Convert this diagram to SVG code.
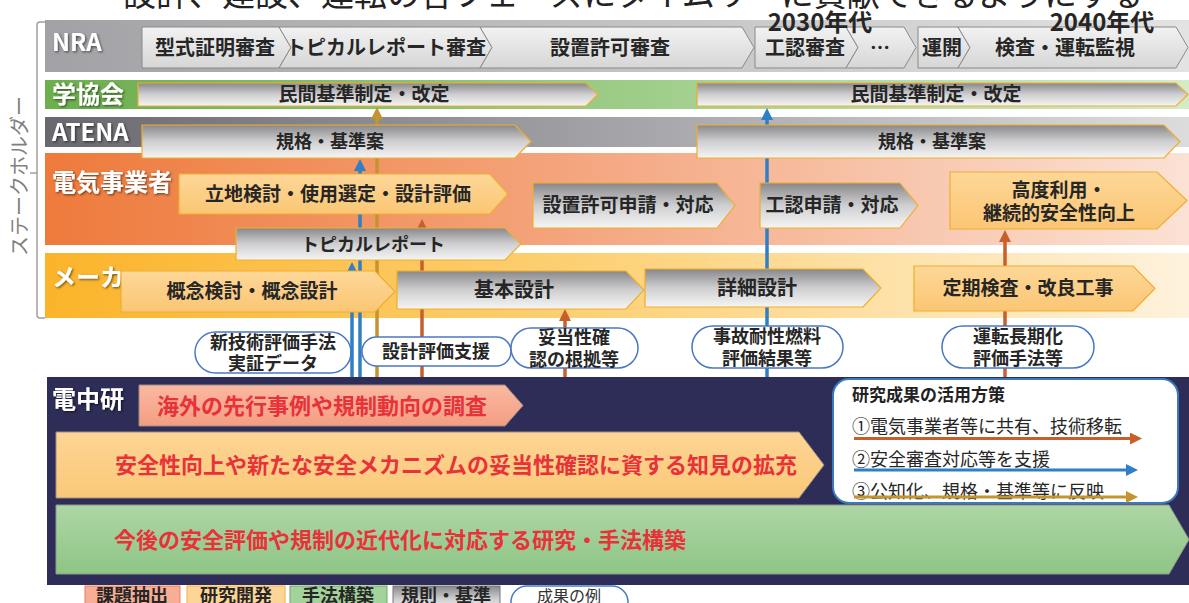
<svg xmlns="http://www.w3.org/2000/svg" width="1189" height="603" viewBox="0 0 1189 603">
<defs>
<style>
text{font-family:"Noto Sans CJK JP","Noto Sans",sans-serif}
.lbl{font-weight:700;fill:#fff;font-size:24px;filter:url(#sh)}
.ct{font-weight:700;fill:#262626;text-anchor:middle}
.red{font-weight:700;fill:#e8323a;font-size:22px}
.bub{fill:#fff;stroke:#4a78c2;stroke-width:1.5}
.bt{font-weight:700;fill:#262626;font-size:18px;text-anchor:middle}
.chg{fill:url(#gGray);stroke:#f0ad2e;stroke-width:1.2}
.cho{fill:url(#gLtOr);stroke:#f0ad2e;stroke-width:1.2}
.chn{fill:url(#gNraCh);stroke:#8a8a8a;stroke-width:1}
.cn{fill:none;stroke-width:3.5}
.or{stroke:#c65f2c}
.bl{stroke:#2f7fc6}
.tn{stroke:#c4942f}
.lg{font-size:18px;fill:#262626}
</style>
<filter id="sh" x="-10%" y="-20%" width="130%" height="160%"><feDropShadow dx="1.2" dy="1.2" stdDeviation="0.8" flood-color="#000" flood-opacity="0.55"/></filter>
<linearGradient id="gNRA" x1="0" y1="0" x2="1" y2="0"><stop offset="0" stop-color="#a2a2a6"/><stop offset="1" stop-color="#e3e3e3"/></linearGradient>
<linearGradient id="gGak" x1="0" y1="0" x2="1" y2="0"><stop offset="0" stop-color="#6cae4c"/><stop offset="0.5" stop-color="#9ccc86"/><stop offset="1" stop-color="#d4ebc8"/></linearGradient>
<linearGradient id="gAte" x1="0" y1="0" x2="1" y2="0"><stop offset="0" stop-color="#6a686e"/><stop offset="0.5" stop-color="#a4a4a8"/><stop offset="1" stop-color="#dcdcdc"/></linearGradient>
<linearGradient id="gDen" x1="0" y1="0" x2="1" y2="0"><stop offset="0" stop-color="#ee7a3b"/><stop offset="0.45" stop-color="#f4a47c"/><stop offset="1" stop-color="#fbe2d5"/></linearGradient>
<linearGradient id="gMak" x1="0" y1="0" x2="1" y2="0"><stop offset="0" stop-color="#fbb42a"/><stop offset="0.5" stop-color="#fdd27a"/><stop offset="1" stop-color="#fef2dc"/></linearGradient>
<linearGradient id="gGray" x1="0" y1="0" x2="0" y2="1"><stop offset="0" stop-color="#88888c"/><stop offset="0.5" stop-color="#cfcfd1"/><stop offset="1" stop-color="#f5f5f5"/></linearGradient>
<linearGradient id="gNraCh" x1="0" y1="0" x2="0" y2="1"><stop offset="0" stop-color="#f2f2f2"/><stop offset="1" stop-color="#d6d6d6"/></linearGradient>
<linearGradient id="gLtOr" x1="0" y1="0" x2="0" y2="1"><stop offset="0" stop-color="#fdd798"/><stop offset="1" stop-color="#fbc674"/></linearGradient>
<linearGradient id="gSal" x1="0" y1="0" x2="0" y2="1"><stop offset="0" stop-color="#fab9a1"/><stop offset="1" stop-color="#f49d82"/></linearGradient>
<linearGradient id="gPch" x1="0" y1="0" x2="0" y2="1"><stop offset="0" stop-color="#fdd595"/><stop offset="1" stop-color="#fbc878"/></linearGradient>
<linearGradient id="gGrn" x1="0" y1="0" x2="0" y2="1"><stop offset="0" stop-color="#aed6a5"/><stop offset="1" stop-color="#8ec585"/></linearGradient>
<marker id="mOr" viewBox="0 0 12 12" refX="2" refY="6" markerWidth="12" markerHeight="12" markerUnits="userSpaceOnUse" orient="auto"><path d="M0,0 L12,6 L0,12 z" fill="#c65f2c"/></marker>
<marker id="mBl" viewBox="0 0 12 12" refX="2" refY="6" markerWidth="12" markerHeight="12" markerUnits="userSpaceOnUse" orient="auto"><path d="M0,0 L12,6 L0,12 z" fill="#2f7fc6"/></marker>
<marker id="mTn" viewBox="0 0 12 12" refX="2" refY="6" markerWidth="12" markerHeight="12" markerUnits="userSpaceOnUse" orient="auto"><path d="M0,0 L12,6 L0,12 z" fill="#c4942f"/></marker>
</defs>

<g id="title">
<text x="123" y="6" font-size="33" fill="#222">設計、建設、運転の各フェーズにタイムリーに貢献できるようにする</text>
</g>

<g id="stakeholder-bracket">
<path d="M45,22 H40 Q37,22 37,25 V315 Q37,318 40,318 H45 M37,173 H30" fill="none" stroke="#a0a0a0" stroke-width="1.5"/>
<text transform="translate(27,176) rotate(-90)" text-anchor="middle" font-size="20" fill="#808080">ステークホルダー</text>
</g>

<g id="band-nra"><rect x="45" y="20" width="1144" height="52" fill="url(#gNRA)"/><text class="lbl" x="52" y="51">NRA</text></g>
<g id="band-gakkai"><rect x="45" y="80" width="1144" height="29" fill="url(#gGak)"/><text class="lbl" x="52" y="103">学協会</text></g>
<g id="band-atena"><rect x="45" y="117" width="1144" height="30" fill="url(#gAte)"/><text class="lbl" x="52" y="141">ATENA</text></g>
<g id="band-denki"><rect x="45" y="153" width="1144" height="92" fill="url(#gDen)"/><text class="lbl" x="52" y="191" font-size="25">電気事業者</text></g>
<g id="band-maker"><rect x="45" y="253" width="1144" height="65" fill="url(#gMak)"/><text class="lbl" x="52" y="286">メーカ</text></g>

<g id="bubble-shingijutsu"><rect class="bub" x="195" y="332" width="156" height="41" rx="20.5"/><text class="bt" x="273" y="349">新技術評価手法</text><text class="bt" x="273" y="370">実証データ</text></g>

<g id="connectors">
<line class="cn bl" x1="352" y1="377" x2="352" y2="272" marker-end="url(#mBl)"/>
<line class="cn bl" x1="360" y1="377" x2="360" y2="169" marker-end="url(#mBl)"/>
<line class="cn tn" x1="377" y1="377" x2="377" y2="117" marker-end="url(#mTn)"/>
<line class="cn or" x1="422" y1="377" x2="422" y2="229" marker-end="url(#mOr)"/>
<line class="cn or" x1="565" y1="377" x2="565" y2="319" marker-end="url(#mOr)"/>
<line class="cn bl" x1="767" y1="377" x2="767" y2="118" marker-end="url(#mBl)"/>
<line class="cn or" x1="1005" y1="377" x2="1005" y2="240" marker-end="url(#mOr)"/>
</g>

<g id="nra-steps">
<polygon class="chn" points="142,27 279,27 291,47.5 279,68 142,68"/><text class="ct" x="215" y="55" font-size="20">型式証明審査</text>
<polygon class="chn" points="279,27 480,27 492,47.5 480,68 279,68 291,47.5"/><text class="ct" x="386" y="55" font-size="20">トピカルレポート審査</text>
<polygon class="chn" points="480,27 742,27 754,47.5 742,68 480,68 492,47.5"/><text class="ct" x="610" y="55" font-size="20">設置許可審査</text>
<polygon class="chn" points="755,27 846,27 858,47.5 846,68 755,68"/><text class="ct" x="805" y="55" font-size="20">工認審査</text>
<polygon class="chn" points="846,27 904,27 916,47.5 904,68 846,68 858,47.5"/><text class="ct" x="880" y="55" font-size="20">…</text>
<polygon class="chn" points="918,27 958,27 970,47.5 958,68 918,68"/><text class="ct" x="942" y="55" font-size="20">運開</text>
<polygon class="chn" points="958,27 1176,27 1188,47.5 1176,68 958,68 970,47.5"/><text class="ct" x="1065" y="55" font-size="20">検査・運転監視</text>
</g>
<g id="decades">
<text x="820" y="31" font-size="24" font-weight="700" fill="#262626" text-anchor="middle">2030年代</text>
<text x="1102" y="31" font-size="24" font-weight="700" fill="#262626" text-anchor="middle">2040年代</text>
</g>

<g id="gakkai-1"><polygon class="chg" points="138,83 586,83 598,94.5 586,106 138,106"/><text class="ct" x="364" y="101" font-size="19">民間基準制定・改定</text></g>
<g id="gakkai-2"><polygon class="chg" points="697,83 1176,83 1188,94.5 1176,106 697,106"/><text class="ct" x="936" y="101" font-size="19">民間基準制定・改定</text></g>
<g id="atena-1"><polygon class="chg" points="142,125 515,125 531,141.5 515,158 142,158"/><text class="ct" x="330" y="148" font-size="18">規格・基準案</text></g>
<g id="atena-2"><polygon class="chg" points="697,125 1164,125 1180,141.5 1164,158 697,158"/><text class="ct" x="932" y="148" font-size="18">規格・基準案</text></g>

<g id="denki-ritchi"><polygon class="cho" points="179,174 490,174 508,194 490,214 179,214"/><text class="ct" x="338" y="201" font-size="19">立地検討・使用選定・設計評価</text></g>
<g id="denki-secchi"><polygon class="chg" points="533,183 717,183 735,205.5 717,228 533,228"/><text class="ct" x="628" y="212" font-size="19">設置許可申請・対応</text></g>
<g id="denki-koninn"><polygon class="chg" points="760,183 900,183 918,205.5 900,228 760,228"/><text class="ct" x="832" y="212" font-size="19">工認申請・対応</text></g>
<g id="denki-kodo"><polygon class="cho" points="950,172 1157,172 1187,200.5 1157,229 950,229"/><text class="ct" x="1059" y="197" font-size="19">高度利用・</text><text class="ct" x="1059" y="220" font-size="19">継続的安全性向上</text></g>
<g id="topical-report"><polygon class="chg" points="236,228 505,228 521,244 505,260 236,260"/><text class="ct" x="373" y="251" font-size="18">トピカルレポート</text></g>

<g id="maker-gainen"><polygon class="cho" points="121,271 375,271 395,291.5 375,312 121,312"/><text class="ct" x="252" y="298" font-size="19">概念検討・概念設計</text></g>
<g id="maker-kihon"><polygon class="chg" points="397,271 626,271 644,290 626,309 397,309"/><text class="ct" x="514" y="297" font-size="20">基本設計</text></g>
<g id="maker-shosai"><polygon class="chg" points="645,269 863,269 881,288 863,307 645,307"/><text class="ct" x="757" y="295" font-size="20">詳細設計</text></g>
<g id="maker-teiki"><polygon class="cho" points="914,266 1133,266 1155,288.5 1133,311 914,311"/><text class="ct" x="1028" y="295" font-size="19">定期検査・改良工事</text></g>

<g id="bubble-sekkei"><rect class="bub" x="362" y="337" width="149" height="29" rx="14.5"/><text class="bt" x="436" y="358">設計評価支援</text></g>
<g id="bubble-dato"><rect class="bub" x="511" y="328" width="127" height="40" rx="20"/><text class="bt" x="574" y="344">妥当性確</text><text class="bt" x="574" y="366">認の根拠等</text></g>
<g id="bubble-jiko"><rect class="bub" x="692" y="326" width="151" height="42" rx="21"/><text class="bt" x="767" y="343">事故耐性燃料</text><text class="bt" x="767" y="365">評価結果等</text></g>
<g id="bubble-unten"><rect class="bub" x="942" y="326" width="152" height="42" rx="21"/><text class="bt" x="1018" y="343">運転長期化</text><text class="bt" x="1018" y="365">評価手法等</text></g>

<g id="criepi">
<rect x="47" y="377" width="1142" height="208" fill="#2e2d57"/>
<text class="lbl" x="52" y="408">電中研</text>
</g>
<g id="criepi-survey"><polygon points="139,385 505,385 523,405.5 505,426 139,426" fill="url(#gSal)" stroke="#9a8a86" stroke-width="1"/><text class="red" x="322" y="413.5" font-size="23" text-anchor="middle">海外の先行事例や規制動向の調査</text></g>
<g id="criepi-rd"><polygon points="56,432 799,432 824,465 799,498 56,498" fill="url(#gPch)" stroke="#9a8f80" stroke-width="1"/><text class="red" x="115" y="473">安全性向上や新たな安全メカニズムの妥当性確認に資する知見の拡充</text></g>
<g id="criepi-method"><polygon points="56,505 1169,505 1189,539.5 1169,574 56,574" fill="url(#gGrn)" stroke="#8a9a88" stroke-width="1"/><text class="red" x="114" y="547.5">今後の安全評価や規制の近代化に対応する研究・手法構築</text></g>

<g id="usage-box">
<rect x="833" y="379" width="345" height="124" rx="16" fill="#fff" stroke="#3a78c0" stroke-width="2"/>
<text x="852" y="401" font-size="17" font-weight="700" fill="#222">研究成果の活用方策</text>
<text class="lg" x="852" y="433">①電気事業者等に共有、技術移転</text>
<line class="or" x1="854" y1="438.5" x2="1132" y2="438.5" stroke-width="3" marker-end="url(#mOr)"/>
<text class="lg" x="852" y="466">②安全審査対応等を支援</text>
<line class="bl" x1="854" y1="470" x2="1128" y2="470" stroke-width="3" marker-end="url(#mBl)"/>
<text class="lg" x="852" y="498">③公知化、規格・基準等に反映</text>
<line class="tn" x1="854" y1="497" x2="1128" y2="497" stroke-width="3" marker-end="url(#mTn)"/>
</g>

<g id="legend">
<rect x="85" y="586" width="95" height="26" fill="#f8ad95" stroke="#e58060"/><text class="ct" x="132" y="602" font-size="18">課題抽出</text>
<rect x="187" y="586" width="98" height="26" fill="#fdd596" stroke="#f0b040"/><text class="ct" x="236" y="602" font-size="18">研究開発</text>
<rect x="290" y="586" width="97" height="26" fill="#a3d29a" stroke="#70a868"/><text class="ct" x="338" y="602" font-size="18">手法構築</text>
<rect x="393" y="586" width="107" height="26" fill="url(#gGray)" stroke="#777"/><text class="ct" x="446" y="602" font-size="18">規則・基準</text>
<rect class="bub" x="511" y="586" width="117" height="32" rx="16"/><text x="569" y="602" font-size="16" fill="#333" text-anchor="middle">成果の例</text>
</g>
</svg>
